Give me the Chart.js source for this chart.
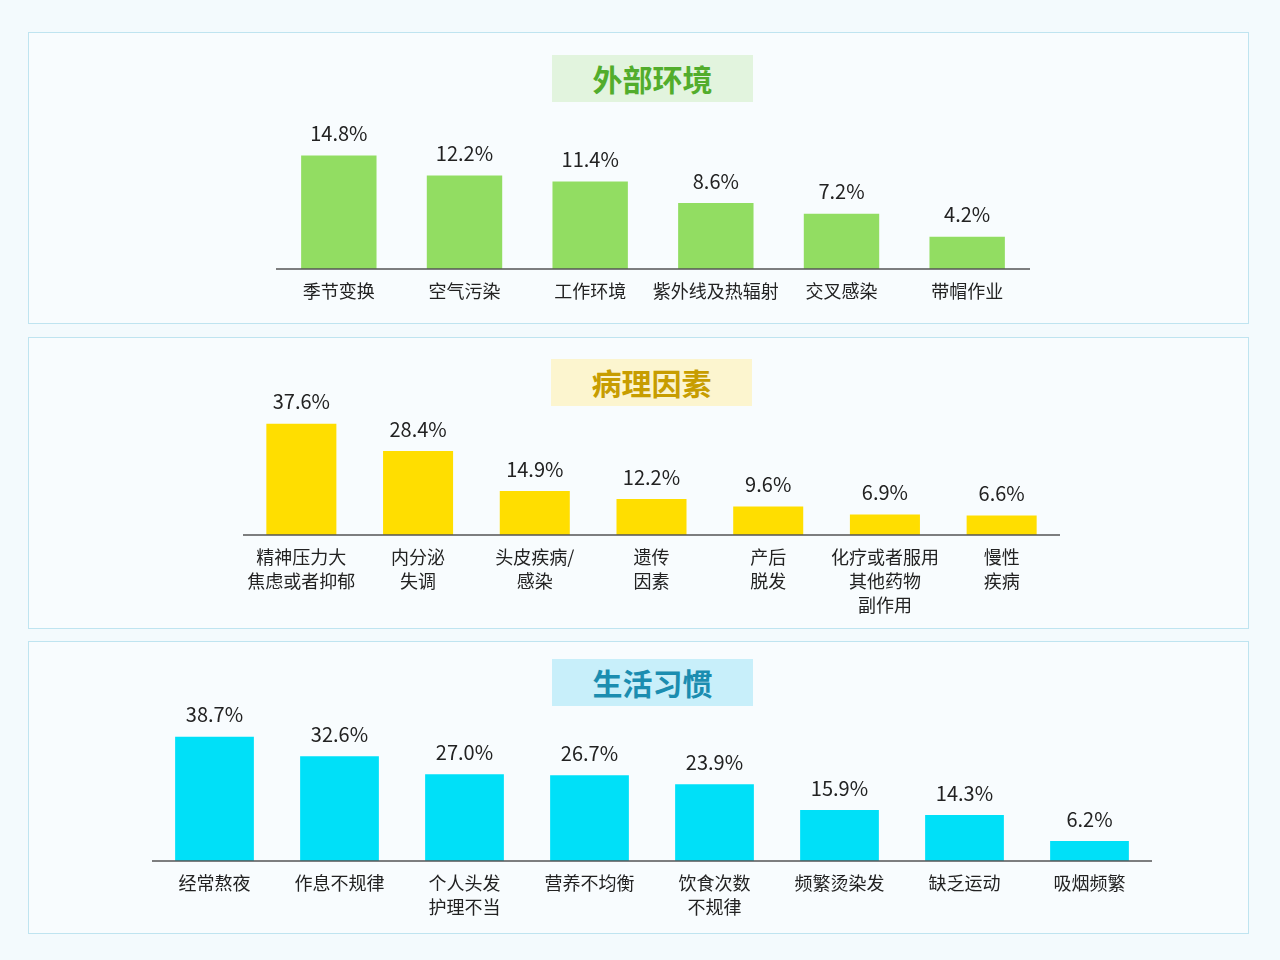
<!DOCTYPE html>
<html><head><meta charset="utf-8">
<script src="https://cdn.jsdelivr.net/npm/chart.js@4"></script>
<style>
body{margin:0;width:1280px;height:960px;background:#f3fafd;position:relative;font-family:"Noto Sans CJK SC",sans-serif;overflow:hidden}
.panel{position:absolute;left:28px;width:1219px;background:#f8fcfe;border:1px solid #bfe4f0}
.title{position:absolute;width:201px;height:47px;line-height:47px;text-align:center;font-size:30px;font-weight:bold;font-family:"Noto Sans CJK SC"}
canvas{position:absolute;left:0;top:0}
</style></head><body>
<div class="panel" style="top:32px;height:290px"><canvas id="c1"></canvas></div>
<div class="panel" style="top:337px;height:290px"><canvas id="c2"></canvas></div>
<div class="panel" style="top:641px;height:291px"><canvas id="c3"></canvas></div>
<div class="title" style="left:552px;top:55px;background:#e2f4de;color:#52ad2c">外部环境</div>
<div class="title" style="left:551px;top:359px;background:#fcf5cf;color:#c79d00">病理因素</div>
<div class="title" style="left:552px;top:659px;background:#c8effa;color:#1b8db0">生活习惯</div>
<script>
const cats1=[["季节变换"],["空气污染"],["工作环境"],["紫外线及热辐射"],["交叉感染"],["带帽作业"]];
const vals1=[14.8,12.2,11.4,8.6,7.2,4.2];
const cats2=[["精神压力大","焦虑或者抑郁"],["内分泌","失调"],["头皮疾病/","感染"],["遗传","因素"],["产后","脱发"],["化疗或者服用","其他药物","副作用"],["慢性","疾病"]];
const vals2=[37.6,28.4,14.9,12.2,9.6,6.9,6.6];
const cats3=[["经常熬夜"],["作息不规律"],["个人头发","护理不当"],["营养不均衡"],["饮食次数","不规律"],["频繁烫染发"],["缺乏运动"],["吸烟频繁"]];
const vals3=[38.7,32.6,27.0,26.7,23.9,15.9,14.3,6.2];

const labelPlugin={id:'lbl',afterDatasetsDraw(ch){
  const c=ch.ctx,a=ch.chartArea,xs=ch.scales.x,ys=ch.scales.y,ds=ch.data.datasets[0];
  c.save();
  c.strokeStyle='#555';c.lineWidth=1.5;c.beginPath();c.moveTo(a.left,a.bottom);c.lineTo(a.right,a.bottom);c.stroke();
  c.textAlign='center';c.textBaseline='middle';c.fillStyle='#222';
  c.font='20px "Noto Sans CJK SC"';
  ds.data.forEach((v,i)=>{const x=xs.getPixelForValue(i),y=ys.getPixelForValue(v);c.fillText(v.toFixed(1)+'%',x,y-22);});
  c.font='18px "Noto Sans CJK SC"';
  ch.data.labels.forEach((l,i)=>{const x=xs.getPixelForValue(i);l.forEach((t,j)=>c.fillText(t,x,a.bottom+22+j*24));});
  c.restore();}};

function make(id,cats,vals,color,max,pad,bp,w,h){
  const cv=document.getElementById(id);cv.width=w;cv.height=h;cv.style.width=w+'px';cv.style.height=h+'px';
  new Chart(cv,{type:'bar',data:{labels:cats,datasets:[{data:vals,backgroundColor:color,categoryPercentage:1,barPercentage:bp}]},
  options:{responsive:false,animation:false,layout:{padding:pad},plugins:{legend:{display:false},tooltip:{enabled:false}},
  scales:{x:{display:false},y:{display:false,min:0,max:max}}},plugins:[labelPlugin]});
}
make('c1',cats1,vals1,'#92dd62',20.6,{left:247,right:218,top:78,bottom:54},0.6,1219,290);
make('c2',cats2,vals2,'#ffde00',45.3,{left:214,right:188,top:63,bottom:93},0.6,1219,290);
make('c3',cats3,vals3,'#00e0f8',46.7,{left:123,right:96,top:69,bottom:72},0.63,1219,291);
</script></body></html>
